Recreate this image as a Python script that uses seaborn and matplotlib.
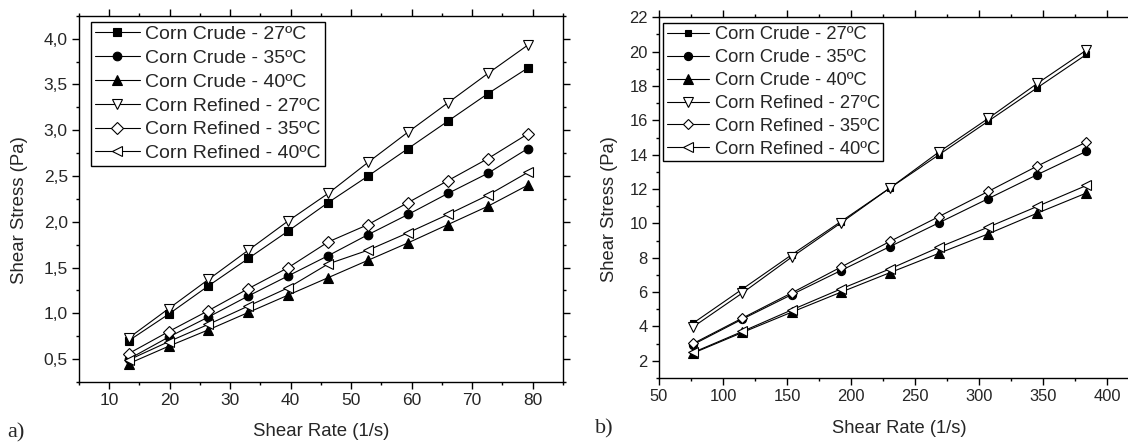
import numpy as np
import pandas as pd
import matplotlib
matplotlib.use("Agg")
import matplotlib.pyplot as plt
from matplotlib.ticker import MultipleLocator, FixedLocator
import seaborn as sns

# ---------------- data ----------------
series_labels = ["Corn Crude - 27ºC", "Corn Crude - 35ºC", "Corn Crude - 40ºC",
                 "Corn Refined - 27ºC", "Corn Refined - 35ºC", "Corn Refined - 40ºC"]

# panel a)
rate_a = [13.2, 19.8, 26.4, 33.0, 39.6, 46.2, 52.8, 59.4, 66.0, 72.6, 79.2]
crude27_a = [0.70, 0.99, 1.30, 1.60, 1.90, 2.21, 2.50, 2.80, 3.10, 3.40, 3.68]
crude35_a = [0.50, 0.74, 0.96, 1.19, 1.41, 1.63, 1.86, 2.08, 2.31, 2.53, 2.80]
crude40_a = [0.45, 0.64, 0.82, 1.01, 1.20, 1.39, 1.58, 1.77, 1.97, 2.17, 2.40]
refined27_a = [0.73, 1.05, 1.37, 1.69, 2.01, 2.31, 2.65, 2.98, 3.30, 3.62, 3.93]
refined35_a = [0.56, 0.80, 1.03, 1.27, 1.50, 1.78, 1.97, 2.21, 2.45, 2.69, 2.96]
refined40_a = [0.49, 0.69, 0.88, 1.08, 1.28, 1.54, 1.69, 1.88, 2.08, 2.29, 2.54]

# panel b)
rate_b = [76.8, 115.2, 153.6, 192.0, 230.4, 268.8, 307.2, 345.6, 384.0]
crude27_b = [4.20, 6.18, 8.17, 10.10, 12.06, 14.00, 15.95, 17.90, 19.84]
crude35_b = [2.95, 4.43, 5.85, 7.25, 8.65, 10.04, 11.44, 12.84, 14.20]
crude40_b = [2.45, 3.65, 4.83, 5.99, 7.13, 8.26, 9.39, 10.60, 11.77]
refined27_b = [3.98, 5.95, 8.03, 10.02, 12.06, 14.16, 16.11, 18.15, 20.09]
refined35_b = [3.01, 4.49, 5.95, 7.45, 8.95, 10.40, 11.86, 13.34, 14.74]
refined40_b = [2.49, 3.71, 4.96, 6.18, 7.35, 8.61, 9.78, 10.99, 12.21]

yticks_a = [0.5, 1.0, 1.5, 2.0, 2.5, 3.0, 3.5, 4.0]
ytick_labels_a = ["0,5", "1,0", "1,5", "2,0", "2,5", "3,0", "3,5", "4,0"]
xticks_a = [10, 20, 30, 40, 50, 60, 70, 80]
xticks_b = [50, 100, 150, 200, 250, 300, 350, 400]
yticks_b = [2, 4, 6, 8, 10, 12, 14, 16, 18, 20, 22]

x_label = "Shear Rate (1/s)"
y_label = "Shear Stress (Pa)"

# ---------------- style ----------------
sns.set_theme(style="ticks")
plt.rcParams["font.family"] = ["Liberation Sans", "DejaVu Sans"]
plt.rcParams["axes.linewidth"] = 1.0
plt.rcParams["axes.edgecolor"] = "black"

styles = [("s", "black", 5.2), ("o", "black", 6.2), ("^", "black", 7.2),
          ("v", "white", 7.5), ("D", "white", 5.8), ("<", "white", 7.5)]

fig = plt.figure(figsize=(11.28, 4.42), dpi=100)
ax_a = fig.add_axes([0.0700, 0.1357, 0.4291, 0.8287])
ax_b = fig.add_axes([0.5842, 0.1448, 0.4255, 0.8161])


def draw(ax, rate, series, scale):
    for lab, ys, (mk, fc, ms) in zip(series_labels, series, styles):
        df = pd.DataFrame({"x": rate, "y": ys})
        sns.lineplot(data=df, x="x", y="y", ax=ax, color="black", lw=0.8,
                     marker=mk, markersize=ms * scale, markerfacecolor=fc,
                     markeredgecolor="black", markeredgewidth=0.8,
                     errorbar=None, label=lab, legend=False)


draw(ax_a, rate_a, [crude27_a, crude35_a, crude40_a, refined27_a, refined35_a, refined40_a], 1.0)
draw(ax_b, rate_b, [crude27_b, crude35_b, crude40_b, refined27_b, refined35_b, refined40_b], 0.95)

# axes a
ax_a.set_xlim(5, 85)
ax_a.set_ylim(0.25, 4.25)
ax_a.xaxis.set_major_locator(FixedLocator(xticks_a))
ax_a.set_xticklabels([str(t) for t in xticks_a])
ax_a.xaxis.set_minor_locator(MultipleLocator(5))
ax_a.yaxis.set_major_locator(FixedLocator(yticks_a))
ax_a.set_yticklabels(ytick_labels_a)
ax_a.yaxis.set_minor_locator(MultipleLocator(0.25))

# axes b
ax_b.set_xlim(50, 425)
ax_b.set_ylim(1, 22)
ax_b.xaxis.set_major_locator(FixedLocator(xticks_b))
ax_b.set_xticklabels([str(t) for t in xticks_b])
ax_b.xaxis.set_minor_locator(MultipleLocator(25))
ax_b.yaxis.set_major_locator(FixedLocator(yticks_b))
ax_b.set_yticklabels([str(t) for t in yticks_b])
ax_b.yaxis.set_minor_locator(MultipleLocator(1))

for ax, tfs, lfs, lx, ly, xly in [(ax_a, 12.5, 13.4, -0.105, 0.47, -0.112),
                                  (ax_b, 11.9, 13.2, -0.085, 0.468, -0.117)]:
    for s in ax.spines.values():
        s.set_visible(True)
        s.set_color("black")
        s.set_linewidth(1.0)
    ax.tick_params(which="both", direction="out", top=True, right=True,
                   labeltop=False, labelright=False, color="black")
    ax.tick_params(which="major", length=5, width=1.0, labelsize=tfs, pad=3)
    ax.tick_params(which="minor", length=2.5, width=1.0)
    ax.set_xlabel(x_label, fontsize=lfs)
    ax.set_ylabel(y_label, fontsize=lfs)
    ax.yaxis.set_label_coords(lx, ly)
    ax.xaxis.set_label_coords(0.5, xly)
    ax.set_facecolor("white")

leg_a = ax_a.legend(loc="upper left", bbox_to_anchor=(0.0248, 0.984), borderaxespad=0,
                    fontsize=14.0, frameon=True, fancybox=False, edgecolor="black",
                    handlelength=2.3, handletextpad=0.3, labelspacing=0.32,
                    borderpad=0.2)
leg_b = ax_b.legend(loc="upper left", bbox_to_anchor=(0.009, 0.985), borderaxespad=0,
                    fontsize=13.2, frameon=True, fancybox=False, edgecolor="black",
                    handlelength=2.3, handletextpad=0.3, labelspacing=0.32,
                    borderpad=0.2)
for leg in (leg_a, leg_b):
    leg.get_frame().set_linewidth(1.0)
    leg.get_frame().set_alpha(1.0)

fig.text(7 / 1128, 1 - 437 / 442, "a)", fontsize=16, family="Liberation Serif",
         ha="left", va="baseline")
fig.text(595 / 1128, 1 - 433 / 442, "b)", fontsize=16, family="Liberation Serif",
         ha="left", va="baseline")

fig.savefig("out.png", dpi=100, facecolor="white")
